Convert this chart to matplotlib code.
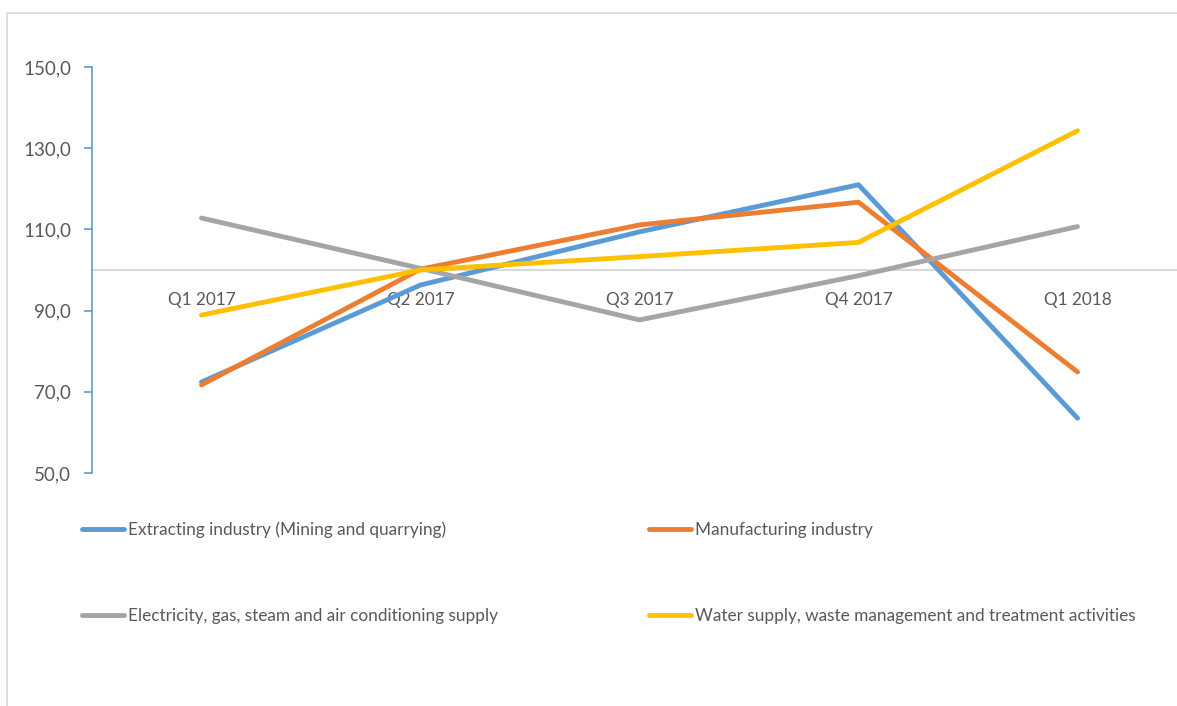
import matplotlib
matplotlib.use("Agg")
import matplotlib.pyplot as plt
from matplotlib.patches import Rectangle
from matplotlib.ticker import FuncFormatter

plt.rcParams['font.family'] = ['Lato', 'DejaVu Sans']

categories = ["Q1 2017", "Q2 2017", "Q3 2017", "Q4 2017", "Q1 2018"]
series_names = [
    "Extracting industry (Mining and quarrying)",
    "Manufacturing industry",
    "Electricity, gas, steam and air conditioning supply",
    "Water supply, waste management and treatment activities",
]
extracting = [72.4, 96.3, 109.4, 121.0, 63.5]
manufacturing = [71.7, 100.2, 111.1, 116.7, 74.9]
electricity = [112.8, 100.4, 87.7, 98.6, 110.7]
water = [88.9, 100.0, 103.3, 106.8, 134.3]
colors = ["#5B9BD5", "#ED7D31", "#A5A5A5", "#FFC000"]
yticks = [50, 70, 90, 110, 130, 150]

W, H = 1177, 706
fig = plt.figure(figsize=(W / 100, H / 100), dpi=100)

# outer chart border (cut off at right and bottom)
fig.patches.append(Rectangle((7 / W, -0.05), 1.1, (H - 13) / H + 0.05,
                             transform=fig.transFigure, fill=False,
                             edgecolor="#D9D9D9", linewidth=1.2))

left, right = 92 / W, 1187 / W
bottom, top = (H - 473) / H, (H - 67) / H
ax = fig.add_axes([left, bottom, right - left, top - bottom])

x = list(range(len(categories)))
for vals, name, c in zip([extracting, manufacturing, electricity, water], series_names, colors):
    ax.plot(x, vals, color=c, lw=3.5, solid_capstyle="round", solid_joinstyle="round",
            label=name, zorder=3, clip_on=False)

ax.set_xlim(-0.5, 4.5)
ax.set_ylim(50, 150)
ax.set_yticks(yticks)
ax.yaxis.set_major_formatter(FuncFormatter(lambda v, p: f"{v:.1f}".replace(".", ",")))
ax.set_xticks(x)
ax.set_xticklabels(categories)

for s in ["top", "right"]:
    ax.spines[s].set_visible(False)
ax.spines["left"].set_color("#5B9BD5")
ax.spines["left"].set_linewidth(1.2)
ax.spines["bottom"].set_position(("data", 100))
ax.spines["bottom"].set_color("#D9D9D9")
ax.spines["bottom"].set_linewidth(1.5)
ax.spines["bottom"].set_zorder(1)

ax.tick_params(axis="y", direction="out", length=6, width=1.2, color="#5B9BD5",
               labelcolor="#595959", labelsize=13.5, pad=9)
ax.tick_params(axis="x", length=0, labelcolor="#595959", labelsize=12.3, pad=16)

handles, labels = ax.get_legend_handles_labels()
order = [0, 2, 1, 3]
leg = fig.legend([handles[i] for i in order], [labels[i] for i in order],
                 loc="upper left", bbox_to_anchor=(82 / W, 1 - 521 / H), ncol=2,
                 frameon=False, fontsize=12.4, labelcolor="#595959",
                 handlelength=2.45, handletextpad=0.2, labelspacing=4.1,
                 columnspacing=8.8, borderaxespad=0, borderpad=0)

fig.savefig("out.png", dpi=100, facecolor="white")
